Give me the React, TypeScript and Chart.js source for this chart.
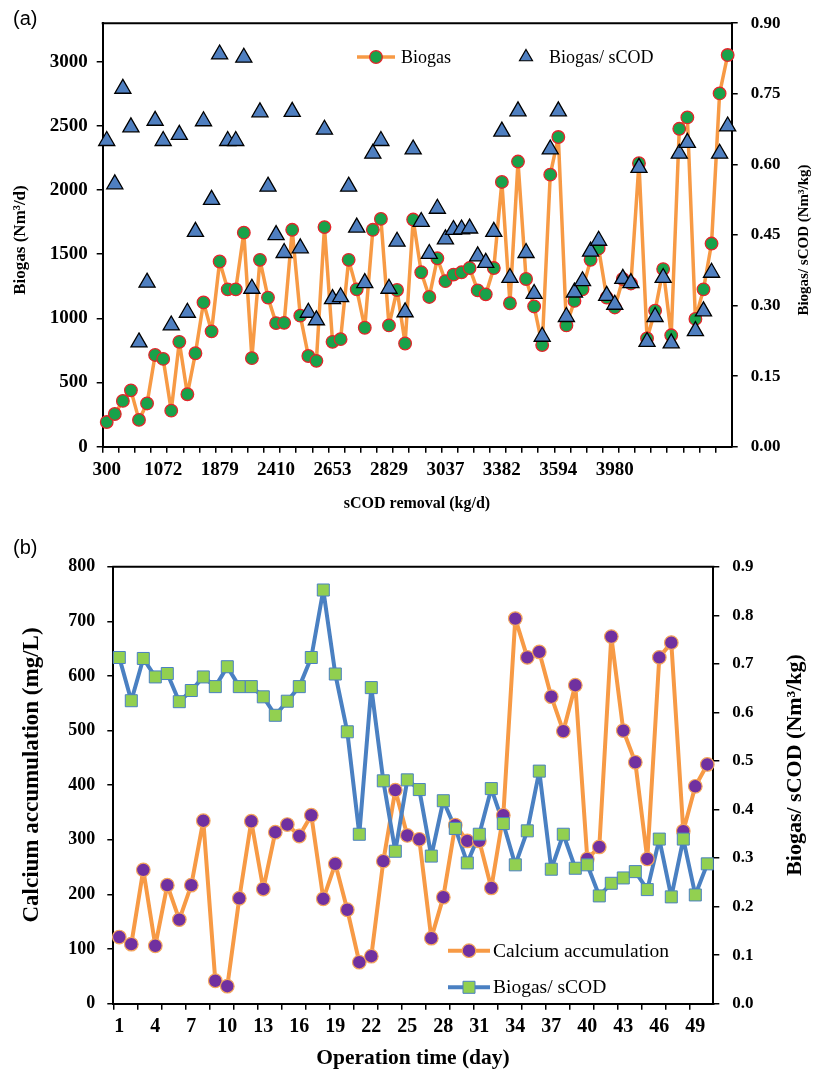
import React, { useEffect, useRef } from 'react';
import { Chart, registerables } from 'chart.js';

Chart.register(...registerables);

// ---------- Panel (a) data ----------
const sCODTickLabels = ['300', '1072', '1879', '2410', '2653', '2829', '3037', '3382', '3594', '3980'];
const biogasTicks = [0, 500, 1000, 1500, 2000, 2500, 3000];

const biogas = [
  192, 255, 357, 439, 209, 337, 715, 684, 281, 817,
  409, 728, 1124, 899, 1443, 1226, 1226, 1668, 690, 1456,
  1162, 963, 965, 1690, 1021, 707, 669, 1711, 817, 838,
  1456, 1226, 927, 1690, 1775, 945, 1221, 804, 1770, 1359,
  1167, 1468, 1290, 1341, 1359, 1392, 1218, 1187, 1392, 2063,
  1118, 2222, 1307, 1093, 792, 2120, 2413, 945, 1136, 1226,
  1456, 1545, 1162, 1085, 1307, 1272, 2209, 843, 1060, 1384,
  868, 2477, 2566, 996, 1226, 1583, 2753, 3052,
];

const biogasPerSCOD_A = [
  0.650, 0.558, 0.761, 0.679, 0.222, 0.349, 0.693, 0.650, 0.258, 0.663,
  0.285, 0.457, 0.692, 0.525, 0.834, 0.650, 0.650, 0.827, 0.336, 0.711,
  0.553, 0.450, 0.412, 0.712, 0.422, 0.285, 0.269, 0.674, 0.314, 0.318,
  0.553, 0.466, 0.348, 0.623, 0.650, 0.336, 0.436, 0.286, 0.632, 0.478,
  0.410, 0.506, 0.441, 0.461, 0.462, 0.464, 0.405, 0.391, 0.457, 0.670,
  0.359, 0.713, 0.412, 0.325, 0.234, 0.632, 0.713, 0.276, 0.328, 0.352,
  0.415, 0.438, 0.321, 0.302, 0.357, 0.348, 0.593, 0.223, 0.276, 0.359,
  0.220, 0.623, 0.646, 0.246, 0.288, 0.370, 0.623, 0.681,
];

const sCODSampleIndex = biogas.map((_, i) => String(i));
const sCODLabelEvery = 7;

// ---------- Panel (b) data ----------
const days = [
  '1', '2', '3', '4', '5', '6', '7', '8', '9', '10',
  '11', '12', '13', '14', '15', '16', '17', '18', '19', '20',
  '21', '22', '23', '24', '25', '26', '27', '28', '29', '30',
  '31', '32', '33', '34', '35', '36', '37', '38', '39', '40',
  '41', '42', '43', '44', '45', '46', '47', '48', '49', '50',
];

const calcium = [
  122, 109, 245, 106, 217, 154, 217, 335, 42, 32,
  193, 334, 210, 314, 328, 307, 345, 192, 256, 172,
  76, 87, 261, 391, 308, 301, 120, 195, 327, 298,
  298, 212, 345, 705, 634, 644, 562, 499, 583, 265,
  287, 672, 500, 442, 265, 634, 661, 316, 398, 438,
];

const biogasPerSCOD_B = [
  0.713, 0.624, 0.711, 0.673, 0.680, 0.622, 0.645, 0.673, 0.653, 0.694,
  0.653, 0.653, 0.632, 0.594, 0.623, 0.653, 0.713, 0.852, 0.679, 0.560,
  0.349, 0.651, 0.459, 0.314, 0.461, 0.441, 0.304, 0.418, 0.361, 0.290,
  0.349, 0.443, 0.371, 0.286, 0.356, 0.479, 0.277, 0.349, 0.279, 0.286,
  0.222, 0.248, 0.259, 0.272, 0.235, 0.339, 0.220, 0.339, 0.224, 0.288,
];
const dayLabelEvery = 3;

// ---------- styles ----------
const SERIF = "'Liberation Serif', 'Times New Roman', serif";
const SANS = "'Liberation Sans', Arial, sans-serif";
const ORANGE = '#F79A45';
const GREEN = '#18A24A';
const RED = '#E3262B';
const TRI_BLUE = '#4F7FC0';
const PURPLE = '#7030A0';
const LINE_BLUE = '#4A80C2';
const SQ_GREEN = '#92D050';

type TextSpec = {
  text: string;
  x: number;
  y: number;
  size: number;
  bold?: boolean;
  rotate?: boolean;
  family?: string;
  align?: CanvasTextAlign;
};

type LegendSpec = {
  x0: number;
  x1: number;
  y: number;
  line?: string;
  lineWidth?: number;
  marker: 'circle' | 'triangle' | 'square';
  mx: number;
  mr: number;
  fill: string;
  stroke: string;
  strokeWidth: number;
  text: string;
  tx: number;
  size: number;
};

function drawMarker(ctx: CanvasRenderingContext2D, kind: string, x: number, y: number, r: number) {
  ctx.beginPath();
  if (kind === 'circle') {
    ctx.arc(x, y, r, 0, Math.PI * 2);
  } else if (kind === 'triangle') {
    ctx.moveTo(x, y - r);
    ctx.lineTo(x + r * 0.866, y + r * 0.5);
    ctx.lineTo(x - r * 0.866, y + r * 0.5);
    ctx.closePath();
  } else {
    const s = r * Math.SQRT1_2;
    ctx.rect(x - s, y - s, 2 * s, 2 * s);
  }
}

function decorPlugin(texts: TextSpec[], legend: LegendSpec[]) {
  return {
    id: 'decor',
    afterDraw(chart: any) {
      const ctx: CanvasRenderingContext2D = chart.ctx;
      const a = chart.chartArea;
      ctx.save();
      ctx.strokeStyle = '#000';
      ctx.lineWidth = 2;
      ctx.beginPath();
      ctx.moveTo(a.left - 1, a.top);
      ctx.lineTo(a.right + 1, a.top);
      ctx.stroke();

      for (const t of texts) {
        ctx.save();
        ctx.fillStyle = '#000';
        ctx.font = `${t.bold ? 'bold ' : ''}${t.size}px ${t.family || SERIF}`;
        ctx.textAlign = t.align || 'center';
        ctx.textBaseline = 'middle';
        ctx.translate(t.x, t.y);
        if (t.rotate) ctx.rotate(-Math.PI / 2);
        ctx.fillText(t.text, 0, 0);
        ctx.restore();
      }

      for (const l of legend) {
        if (l.line) {
          ctx.strokeStyle = l.line;
          ctx.lineWidth = l.lineWidth || 3;
          ctx.beginPath();
          ctx.moveTo(l.x0, l.y);
          ctx.lineTo(l.x1, l.y);
          ctx.stroke();
        }
        drawMarker(ctx, l.marker, l.mx, l.y, l.mr);
        ctx.fillStyle = l.fill;
        ctx.fill();
        ctx.strokeStyle = l.stroke;
        ctx.lineWidth = l.strokeWidth;
        ctx.stroke();
        ctx.fillStyle = '#000';
        ctx.font = `${l.size}px ${SERIF}`;
        ctx.textAlign = 'left';
        ctx.textBaseline = 'middle';
        ctx.fillText(l.text, l.tx, l.y + 1);
      }
      ctx.restore();
    },
  };
}

function axisBase(extra: any) {
  return {
    grid: { drawOnChartArea: false, tickLength: 6, color: '#000', lineWidth: 1.5 },
    border: { display: true, color: '#000', width: 2 },
    ...extra,
  };
}

const everyOtherGrid = (c: any) =>
  typeof c.index === 'number' && c.index % 2 === 0 ? '#000' : 'rgba(0,0,0,0)';

function configA(): any {
  return {
    type: 'line',
    data: {
      labels: sCODSampleIndex,
      datasets: [
        {
          label: 'Biogas/ sCOD',
          data: biogasPerSCOD_A,
          yAxisID: 'y1',
          showLine: false,
          pointStyle: 'triangle',
          pointRadius: 9.3,
          pointBackgroundColor: TRI_BLUE,
          pointBorderColor: '#000',
          pointBorderWidth: 1.3,
          order: 0,
        },
        {
          label: 'Biogas',
          data: biogas,
          yAxisID: 'y',
          borderColor: ORANGE,
          borderWidth: 3.5,
          borderJoinStyle: 'round',
          borderCapStyle: 'round',
          pointStyle: 'circle',
          pointRadius: 6.3,
          pointBackgroundColor: GREEN,
          pointBorderColor: RED,
          pointBorderWidth: 1.3,
          tension: 0,
          order: 1,
        },
      ],
    },
    options: {
      responsive: false,
      animation: false,
      devicePixelRatio: 1,
      layout: { padding: { top: 16.7, left: 0, right: 0, bottom: 0 } },
      plugins: { legend: { display: false }, tooltip: { enabled: false } },
      scales: {
        x: axisBase({
          type: 'category',
          offset: true,
          grid: { drawOnChartArea: false, offset: true, tickLength: 6, lineWidth: 1.5, color: everyOtherGrid },
          ticks: {
            autoSkip: false,
            maxRotation: 0,
            minRotation: 0,
            padding: 6,
            color: '#000',
            font: { family: SERIF, weight: 'bold', size: 19 },
            callback: (_v: any, i: number) =>
              i % sCODLabelEvery === 0 ? sCODTickLabels[i / sCODLabelEvery] ?? '' : '',
          },
          afterFit: (s: any) => {
            s.height = 83.3;
          },
        }),
        y: axisBase({
          position: 'left',
          min: 0,
          max: 3300,
          ticks: {
            padding: 9,
            color: '#000',
            font: { family: SERIF, weight: 'bold', size: 19 },
            callback: (v: any) => String(v),
          },
          afterBuildTicks: (s: any) => {
            s.ticks = biogasTicks.map((v) => ({ value: v }));
          },
          afterFit: (s: any) => {
            s.width = 102.7;
          },
        }),
        y1: axisBase({
          position: 'right',
          min: 0,
          max: 0.9,
          ticks: {
            stepSize: 0.15,
            padding: 13,
            color: '#000',
            font: { family: SERIF, weight: 'bold', size: 17 },
            callback: (v: any) => Number(v).toFixed(2),
          },
          afterFit: (s: any) => {
            s.width = 81.3;
          },
        }),
      },
    },
    plugins: [
      decorPlugin(
        [
          { text: '(a)', x: 13, y: 19, size: 20, family: SANS, align: 'left' },
          { text: 'Biogas (Nm³/d)', x: 21, y: 240, size: 17, bold: true, rotate: true },
          { text: 'Biogas/ sCOD (Nm³/kg)', x: 804, y: 240, size: 15, bold: true, rotate: true },
          { text: 'sCOD removal (kg/d)', x: 417, y: 504, size: 16, bold: true },
        ],
        [
          {
            x0: 357, x1: 395, y: 57, line: ORANGE, lineWidth: 3.5, marker: 'circle', mx: 376, mr: 6.3,
            fill: GREEN, stroke: RED, strokeWidth: 1.3, text: 'Biogas', tx: 401, size: 18,
          },
          {
            x0: 526, x1: 526, y: 57, marker: 'triangle', mx: 526, mr: 7.5,
            fill: TRI_BLUE, stroke: '#000', strokeWidth: 1.2, text: 'Biogas/ sCOD', tx: 549, size: 18,
          },
        ]
      ),
    ],
  };
}

function configB(): any {
  const TOP = 530;
  return {
    type: 'line',
    data: {
      labels: days,
      datasets: [
        {
          label: 'Biogas/ sCOD markers',
          data: biogasPerSCOD_B,
          yAxisID: 'y1',
          showLine: false,
          pointStyle: 'rect',
          pointRadius: 8.5,
          pointBackgroundColor: SQ_GREEN,
          pointBorderColor: LINE_BLUE,
          pointBorderWidth: 1,
          order: 0,
        },
        {
          label: 'Calcium markers',
          data: calcium,
          yAxisID: 'y',
          showLine: false,
          pointStyle: 'circle',
          pointRadius: 6.8,
          pointBackgroundColor: PURPLE,
          pointBorderColor: '#F5A65C',
          pointBorderWidth: 1.2,
          order: 1,
        },
        {
          label: 'Biogas/ sCOD',
          data: biogasPerSCOD_B,
          yAxisID: 'y1',
          borderColor: LINE_BLUE,
          borderWidth: 4,
          borderJoinStyle: 'round',
          borderCapStyle: 'round',
          pointRadius: 0,
          tension: 0,
          order: 2,
        },
        {
          label: 'Calcium accumulation',
          data: calcium,
          yAxisID: 'y',
          borderColor: ORANGE,
          borderWidth: 4,
          borderJoinStyle: 'round',
          borderCapStyle: 'round',
          pointRadius: 0,
          tension: 0,
          order: 3,
        },
      ],
    },
    options: {
      responsive: false,
      animation: false,
      devicePixelRatio: 1,
      layout: { padding: { top: 36.7, left: 0, right: 0, bottom: 0 } },
      plugins: { legend: { display: false }, tooltip: { enabled: false } },
      scales: {
        x: axisBase({
          type: 'category',
          offset: true,
          grid: { drawOnChartArea: false, offset: true, tickLength: 6, lineWidth: 1.5, color: everyOtherGrid },
          ticks: {
            autoSkip: false,
            maxRotation: 0,
            minRotation: 0,
            padding: 5,
            color: '#000',
            font: { family: SERIF, weight: 'bold', size: 20 },
            callback: (_v: any, i: number) => (i % dayLabelEvery === 0 ? days[i] : ''),
          },
          afterFit: (s: any) => {
            s.height = 543 - 473.7;
          },
        }),
        y: axisBase({
          position: 'left',
          min: 0,
          max: 800,
          ticks: {
            stepSize: 100,
            padding: 12,
            color: '#000',
            font: { family: SERIF, weight: 'bold', size: 18 },
          },
          afterFit: (s: any) => {
            s.width = 113.3;
          },
        }),
        y1: axisBase({
          position: 'right',
          min: 0,
          max: 0.9,
          ticks: {
            stepSize: 0.1,
            padding: 13,
            color: '#000',
            font: { family: SERIF, weight: 'bold', size: 17 },
            callback: (v: any) => Number(v).toFixed(1),
          },
          afterFit: (s: any) => {
            s.width = 813 - 713.3;
          },
        }),
      },
    },
    plugins: [
      decorPlugin(
        [
          { text: '(b)', x: 13, y: 548 - TOP, size: 20, family: SANS, align: 'left' },
          { text: 'Calcium accumulation (mg/L)', x: 32, y: 775 - TOP, size: 23, bold: true, rotate: true },
          { text: 'Biogas/ sCOD (Nm³/kg)', x: 795, y: 765 - TOP, size: 22, bold: true, rotate: true },
          { text: 'Operation time (day)', x: 413, y: 1058 - TOP, size: 21.5, bold: true },
        ],
        [
          {
            x0: 448, x1: 490, y: 950.7 - TOP, line: ORANGE, lineWidth: 4, marker: 'circle', mx: 469, mr: 6.8,
            fill: PURPLE, stroke: '#F5A65C', strokeWidth: 1.2, text: 'Calcium accumulation', tx: 493, size: 19.5,
          },
          {
            x0: 448, x1: 490, y: 987.3 - TOP, line: LINE_BLUE, lineWidth: 4, marker: 'square', mx: 469, mr: 8.5,
            fill: SQ_GREEN, stroke: LINE_BLUE, strokeWidth: 1, text: 'Biogas/ sCOD', tx: 493, size: 19.5,
          },
        ]
      ),
    ],
  };
}

export default function App() {
  const refA = useRef<HTMLCanvasElement>(null);
  const refB = useRef<HTMLCanvasElement>(null);

  useEffect(() => {
    const chartA = new Chart(refA.current as HTMLCanvasElement, configA());
    const chartB = new Chart(refB.current as HTMLCanvasElement, configB());
    return () => {
      chartA.destroy();
      chartB.destroy();
    };
  }, []);

  return (
    <div style={{ position: 'absolute', left: 0, top: 0, width: 813, height: 1073, background: '#fff' }}>
      <canvas ref={refA} width={813} height={530} style={{ position: 'absolute', left: 0, top: 0, width: 813, height: 530 }} />
      <canvas ref={refB} width={813} height={543} style={{ position: 'absolute', left: 0, top: 530, width: 813, height: 543 }} />
    </div>
  );
}
